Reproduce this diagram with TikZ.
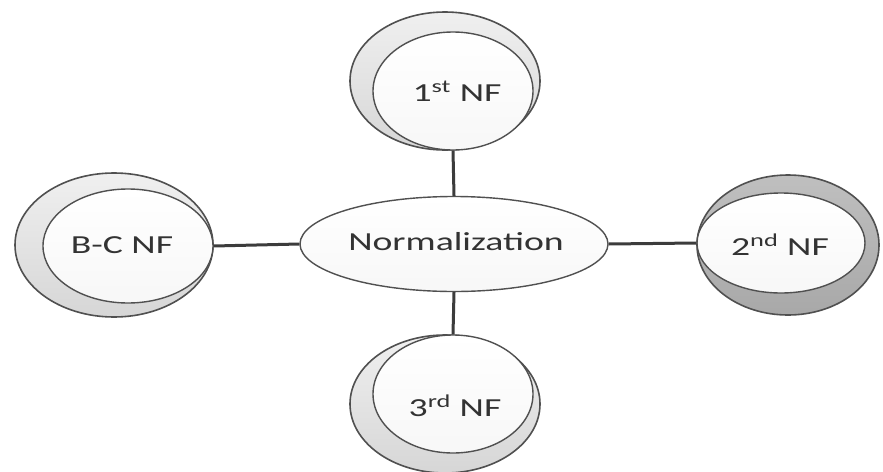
\documentclass[tikz,border=0pt]{standalone}
\usepackage{fontspec}
\setmainfont{Carlito}
\usetikzlibrary{shapes.geometric}
\definecolor{rim}{HTML}{505050}
\definecolor{link}{HTML}{3C3C3C}
\tikzset{
  ring/.style={ellipse, draw=rim, line width=1.6pt, inner sep=0pt,
    top color=gray!12, bottom color=gray!32},
  darkring/.style={ellipse, draw=rim, line width=1.6pt, inner sep=0pt,
    top color=gray!50, bottom color=gray!68},
  face/.style={ellipse, draw=rim, line width=1.4pt, inner sep=0pt,
    top color=white, bottom color=gray!6},
  label/.style={font=\fontsize{26}{28}\selectfont, text=black!80},
  link/.style={draw=link, line width=3pt}
}
\newcommand{\wide}[1]{\scalebox{1.45}[1]{#1}}
\begin{document}
\begin{tikzpicture}[x=1pt,y=-1pt]
  \useasboundingbox[fill=white] (0,0) rectangle (883,471);

  % central ellipse
  \node[face, minimum width=308pt, minimum height=95pt] (norm) at (454,244) {};
  \node[label] (normtxt) at (456,242) {\wide{Normalization}};

  % first normal form (top)
  \node[ring, minimum width=190pt, minimum height=138pt] (n1out) at (445,81) {};
  \node[face, minimum width=160pt, minimum height=118pt] (n1in) at (453,91) {};
  \node[label] (n1txt) at (457,91) {\wide{1\textsuperscript{st} NF}};

  % Boyce-Codd normal form (left)
  \node[ring, minimum width=198pt, minimum height=144pt] (bcout) at (114,245) {};
  \node[face, minimum width=170pt, minimum height=114pt] (bcin) at (128,246) {};
  \node[label] (bctxt) at (122,245) {\wide{B-C NF}};

  % second normal form (right)
  \node[darkring, minimum width=182pt, minimum height=140pt] (n2out) at (788,245) {};
  \node[face, minimum width=168pt, minimum height=100pt] (n2in) at (781,243) {};
  \node[label] (n2txt) at (780,245) {\wide{2\textsuperscript{nd} NF}};

  % third normal form (bottom)
  \node[ring, minimum width=190pt, minimum height=138pt] (n3out) at (445,404) {};
  \node[face, minimum width=160pt, minimum height=118pt] (n3in) at (453,394) {};
  \node[label] (n3txt) at (455,406) {\wide{3\textsuperscript{rd} NF}};

  % connectors
  \draw[link] (n1in.south) -- (norm.north);
  \draw[link] (norm.south) -- (n3in.north);
  \draw[link] (bcin.east) -- (norm.west);
  \draw[link] (norm.east) -- (n2in.west);
\end{tikzpicture}
\end{document}
